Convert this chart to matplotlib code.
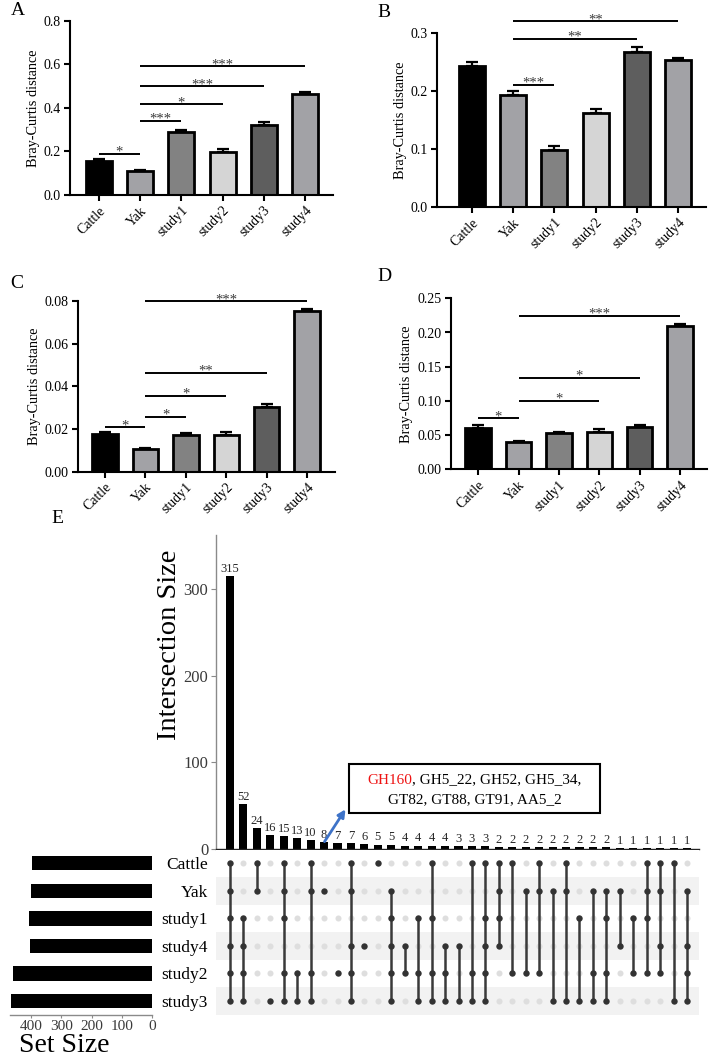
import matplotlib
matplotlib.use('Agg')
import matplotlib.pyplot as plt
from matplotlib.patches import Rectangle, FancyArrowPatch
import matplotlib.text as mtext
import numpy as np

# ---------------- data ----------------
categories = ['Cattle', 'Yak', 'study1', 'study2', 'study3', 'study4']
bar_colors = ['#000000', '#a2a2a6', '#828282', '#d5d5d5', '#5e5e5e', '#a2a2a6']

A_mean = [0.158, 0.109, 0.289, 0.196, 0.323, 0.463]
A_err = [0.008, 0.008, 0.010, 0.014, 0.010, 0.008]
B_mean = [0.244, 0.194, 0.099, 0.162, 0.267, 0.254]
B_err = [0.007, 0.007, 0.007, 0.008, 0.009, 0.003]
C_mean = [0.0177, 0.0105, 0.0172, 0.0172, 0.0303, 0.0752]
C_err = [0.0011, 0.0008, 0.0008, 0.0014, 0.0013, 0.0009]
D_mean = [0.061, 0.0395, 0.053, 0.055, 0.0624, 0.210]
D_err = [0.0034, 0.0024, 0.0020, 0.0044, 0.0030, 0.0025]

# significance brackets: (from, to, height, label)
A_sig = [(0, 1, 0.190, '*'), (1, 2, 0.341, '***'), (1, 3, 0.416, '*'),
         (1, 4, 0.499, '***'), (1, 5, 0.592, '***')]
B_sig = [(1, 2, 0.2115, '***'), (1, 4, 0.291, '**'), (1, 5, 0.3207, '**')]
C_sig = [(0, 1, 0.0208, '*'), (1, 2, 0.0258, '*'), (1, 3, 0.0355, '*'),
         (1, 4, 0.0464, '**'), (1, 5, 0.0800, '***')]
D_sig = [(0, 1, 0.075, '*'), (1, 3, 0.1004, '*'), (1, 4, 0.134, '*'),
         (1, 5, 0.2242, '***')]

# UpSet data
set_names = ['Cattle', 'Yak', 'study1', 'study4', 'study2', 'study3']
set_sizes = [397, 402, 406, 404, 460, 466]
inter_sizes = [315, 52, 24, 16, 15, 13, 10, 8, 7, 7, 6, 5, 5, 4, 4, 4, 4, 3, 3, 3,
               2, 2, 2, 2, 2, 2, 2, 2, 2, 1, 1, 1, 1, 1, 1]
inter_members = [
    ['Cattle', 'Yak', 'study1', 'study4', 'study2', 'study3'],
    ['study1', 'study4', 'study2', 'study3'],
    ['Cattle', 'Yak'],
    ['study3'],
    ['Cattle', 'Yak', 'study1', 'study2', 'study3'],
    ['study2', 'study3'],
    ['Cattle', 'Yak', 'study2', 'study3'],
    ['Yak'],
    ['study2'],
    ['Cattle', 'Yak', 'study4', 'study2', 'study3'],
    ['study4'],
    ['Cattle'],
    ['Yak', 'study1', 'study4', 'study2', 'study3'],
    ['study4', 'study2'],
    ['study1', 'study2', 'study3'],
    ['Cattle', 'study1', 'study2', 'study3'],
    ['study4', 'study2', 'study3'],
    ['study4', 'study3'],
    ['Cattle', 'study2', 'study3'],
    ['Cattle', 'study1', 'study4', 'study2', 'study3'],
    ['Cattle', 'Yak', 'study1', 'study4'],
    ['Cattle', 'study2'],
    ['Yak', 'study2'],
    ['Cattle', 'Yak', 'study2'],
    ['Yak', 'study3'],
    ['Cattle', 'Yak', 'study3'],
    ['study1', 'study3'],
    ['Yak', 'study2', 'study3'],
    ['Yak', 'study1', 'study2', 'study3'],
    ['Yak', 'study4'],
    ['study1', 'study2'],
    ['Cattle', 'Yak', 'study1', 'study2'],
    ['Cattle', 'Yak', 'study4', 'study2'],
    ['Cattle', 'study3'],
    ['Yak', 'study4', 'study2', 'study3'],
]
box_line1_red = 'GH160'
box_line1_rest = ', GH5_22, GH52, GH5_34,'
box_line2 = 'GT82, GT88, GT91, AA5_2'

# ---------------- layout helpers ----------------
W, H = 709, 1058
plt.rcParams['font.family'] = ['Liberation Serif', 'DejaVu Serif']
fig = plt.figure(figsize=(W / 100, H / 100), dpi=100)


def rect(l, t, r, b):
    return [l / W, 1 - b / H, (r - l) / W, (b - t) / H]


def fx(x):
    return x / W


def fy(y):
    return 1 - y / H


def bar_panel(box, xlim, ylim, yticks, fmt, means, errs, sigs):
    ax = fig.add_axes(rect(*box))
    x = np.arange(len(categories))
    ax.errorbar(x, means, yerr=[np.zeros(len(errs)), errs], fmt='none',
                ecolor='black', elinewidth=1.6, capsize=4.5, capthick=1.6, zorder=1)
    ax.bar(x, means, width=0.63, color=bar_colors, edgecolor='black',
           linewidth=2.0, zorder=2)
    ax.set_xlim(*xlim)
    ax.set_ylim(*ylim)
    ax.set_yticks(yticks)
    ax.set_yticklabels([fmt.format(v) for v in yticks], fontsize=10)
    ax.set_xticks(x)
    ax.set_xticklabels(categories, rotation=45, ha='right', rotation_mode='anchor',
                       fontsize=10)
    for s in ['top', 'right']:
        ax.spines[s].set_visible(False)
    for s in ['left', 'bottom']:
        ax.spines[s].set_linewidth(1.5)
    ax.tick_params(axis='both', width=1.5, length=4.5, direction='out', pad=2)
    ax.set_ylabel('Bray-Curtis distance', fontsize=10.3, labelpad=3)
    for i, j, y, lab in sigs:
        ax.plot([i, j], [y, y], color='black', lw=1.4, clip_on=False, zorder=3,
                solid_capstyle='butt')
        ax.annotate(lab, ((i + j) / 2, y), xytext=(0, -1.5), textcoords='offset points',
                    ha='center', va='baseline', fontsize=10.5, color='#3a3a3a',
                    annotation_clip=False)
    return ax


axA = bar_panel((70, 20.7, 333, 195), (-0.70, 5.68), (0, 0.8),
                [0, 0.2, 0.4, 0.6, 0.8], '{:.1f}', A_mean, A_err, A_sig)
axB = bar_panel((437, 33.3, 706, 207), (-0.85, 5.68), (0, 0.3),
                [0, 0.1, 0.2, 0.3], '{:.1f}', B_mean, B_err, B_sig)
axC = bar_panel((78, 301, 335, 471.7), (-0.67, 5.69), (0, 0.08),
                [0, 0.02, 0.04, 0.06, 0.08], '{:.2f}', C_mean, C_err, C_sig)
axD = bar_panel((450.7, 298.3, 707, 469.3), (-0.68, 5.67), (0, 0.25),
                [0, 0.05, 0.10, 0.15, 0.20, 0.25], '{:.2f}', D_mean, D_err, D_sig)

for lab, x, y in [('A', 11, 15), ('B', 377, 16.7), ('C', 10, 288), ('D', 377, 281),
                  ('E', 51, 523)]:
    fig.text(fx(x), fy(y), lab, fontsize=14, ha='left', va='baseline')

# ---------------- UpSet: intersection bars ----------------
n = len(inter_sizes)
xs = np.arange(1, n + 1)
xl = (-0.04, n + 0.89)

axI = fig.add_axes(rect(216, 535, 699, 849))
axI.bar(xs, inter_sizes, width=0.6, color='black', zorder=2)
for x, v in zip(xs, inter_sizes):
    axI.annotate(str(v), (x, v), xytext=(0, 3), textcoords='offset points',
                 ha='center', va='baseline', fontsize=9, color='#262626')
axI.set_xlim(*xl)
axI.set_ylim(0, 362)
axI.set_xticks([])
axI.set_yticks([0, 100, 200, 300])
axI.set_yticklabels(['0', '100', '200', '300'], fontsize=12, color='#3a3a3a')
for s in ['top', 'right']:
    axI.spines[s].set_visible(False)
axI.spines['left'].set_color('#8a8a8a')
axI.spines['left'].set_linewidth(1.0)
axI.spines['bottom'].set_color('#222222')
axI.spines['bottom'].set_linewidth(1.0)
axI.tick_params(axis='y', length=3.5, color='#8a8a8a', pad=2)
fig.text(fx(170), fy(645), 'Intersection Size', rotation=90, ha='center',
         va='center', fontsize=20.5)

# ---------------- UpSet: matrix ----------------
axM = fig.add_axes(rect(216, 849.5, 699, 1014.8))
axM.set_xlim(*xl)
axM.set_ylim(len(set_names) - 0.5, -0.5)
for r in range(1, len(set_names), 2):
    axM.axhspan(r - 0.5, r + 0.5, color='#f2f2f2', lw=0, zorder=0)
gx, gy = np.meshgrid(xs, np.arange(len(set_names)))
axM.scatter(gx.ravel(), gy.ravel(), s=19, color='#dedede', lw=0, zorder=1)
for x, mem in zip(xs, inter_members):
    rows = [set_names.index(m) for m in mem]
    if len(rows) > 1:
        axM.plot([x, x], [min(rows), max(rows)], color='#3a3a3a', lw=1.8, zorder=2,
                 solid_capstyle='butt')
    axM.scatter([x] * len(rows), rows, s=21, color='#333333', lw=0, zorder=3)
axM.set_xticks([])
axM.set_yticks(range(len(set_names)))
axM.set_yticklabels(set_names, fontsize=12.5)
axM.tick_params(axis='y', length=0, pad=6)
for s in axM.spines.values():
    s.set_visible(False)

# ---------------- UpSet: set size ----------------
axS = fig.add_axes(rect(10, 849.5, 152, 1014.8))
axS.barh(range(len(set_names)), set_sizes, height=0.52, color='black')
axS.set_ylim(len(set_names) - 0.5, -0.5)
axS.set_xlim(470, 0)
axS.set_yticks([])
axS.set_xticks([400, 300, 200, 100, 0])
axS.set_xticklabels(['400', '300', '200', '100', '0'], fontsize=11, color='#3a3a3a')
for s in ['top', 'right', 'left']:
    axS.spines[s].set_visible(False)
axS.spines['bottom'].set_color('#8a8a8a')
axS.spines['bottom'].set_linewidth(1.0)
axS.tick_params(axis='x', length=2.5, color='#8a8a8a', pad=1)
fig.text(fx(64), fy(1045), 'Set Size', ha='center', va='center', fontsize=20)

# ---------------- annotation box & arrow ----------------
bx0, bx1, by0, by1 = 349, 600, 764, 813
fig.add_artist(Rectangle((fx(bx0), fy(by1)), (bx1 - bx0) / W, (by1 - by0) / H,
                         transform=fig.transFigure, fill=False, edgecolor='black',
                         lw=1.5))
t_red = fig.text(fx(367), fy(780), box_line1_red, color='#ee1111', fontsize=11,
                 ha='left', va='center')
fig.add_artist(mtext.Annotation(box_line1_rest, xy=(1, 0.5), xycoords=t_red,
                                va='center', ha='left', fontsize=11, color='black'))
fig.text(fx((bx0 + bx1) / 2), fy(799.5), box_line2, fontsize=11, ha='center',
         va='center')
fig.add_artist(FancyArrowPatch((fx(323), fy(844)), (fx(347), fy(807)),
                               transform=fig.transFigure, arrowstyle='-|>',
                               mutation_scale=11, color='#3e73c8', lw=2))

fig.savefig('out.png', dpi=100)
